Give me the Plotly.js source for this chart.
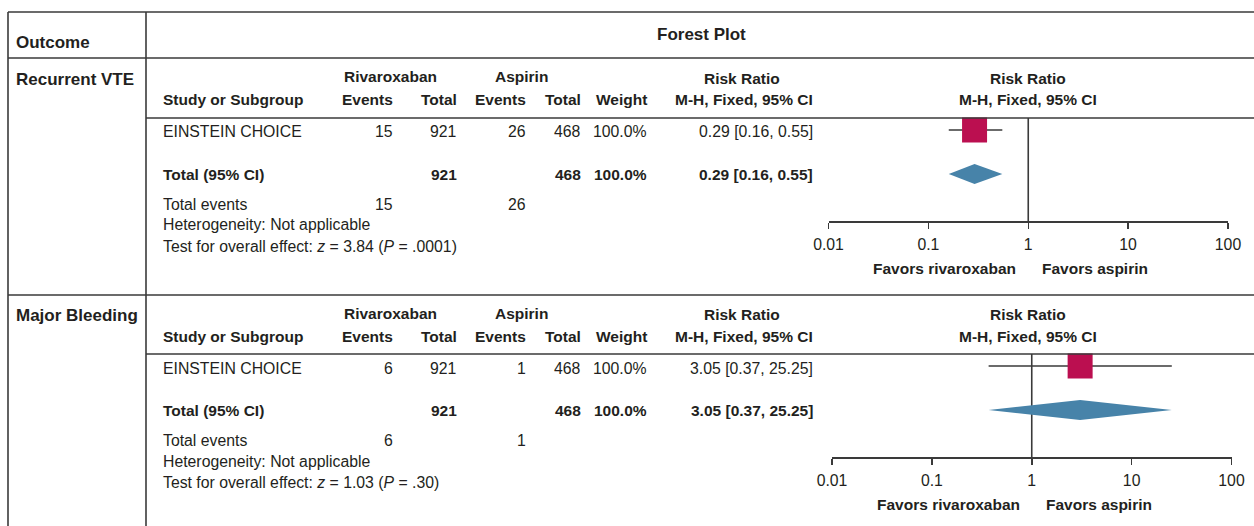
<!DOCTYPE html>
<html>
<head>
<meta charset="utf-8">
<script src="https://cdn.plot.ly/plotly-3.0.1.min.js"></script>
<style>
html,body{margin:0;padding:0;background:#fff;}
#chart{width:1254px;height:526px;}
</style>
</head>
<body>
<div id="chart"></div>
<script>
// ---------- data ----------
const outcomes = ["Recurrent VTE", "Major Bleeding"];
const studyNames = ["EINSTEIN CHOICE", "EINSTEIN CHOICE"];
const rivaroxabanEvents = [15, 6];
const rivaroxabanTotal = [921, 921];
const aspirinEvents = [26, 1];
const aspirinTotal = [468, 468];
const weights = ["100.0%", "100.0%"];
const riskRatio = [0.29, 3.05];
const ciLower = [0.16, 0.37];
const ciUpper = [0.55, 25.25];
const zStat = ["3.84", "1.03"];
const pValue = [".0001", ".30"];
const heterogeneity = ["Not applicable", "Not applicable"];
const tickValues = [0.01, 0.1, 1, 10, 100];
const tickLabels = ["0.01", "0.1", "1", "10", "100"];
const favorsLeft = "Favors rivaroxaban";
const favorsRight = "Favors aspirin";
const groupNames = ["Rivaroxaban", "Aspirin"];

// ---------- styling / geometry ----------
const W = 1254, H = 526;
const FONT = "Liberation Sans, Arial, Helvetica, sans-serif";
const TXT = "#231f20";
const LINE = "#3a3a3a";
const SQUARE = "#bb0f50";
const DIAMOND = "#4783a9";
const FS = 15.5, FS_REG = 15.8, FS_BIG = 17;
const px = x => x / W;
const py = y => 1 - y / H;

const headerLineY = [118, 354];          // pixel y of each panel's header underline
const forestX = [[828.5, 1228], [832, 1231.5]]; // pixel x domain of each forest axis
const rowStudy = 1, rowTotal = 2;
const rowUnit = 44;                      // px per row unit
const diamondHalf = 10 / rowUnit;

const cols = {study: 161, rivEv: 395, rivTot: 458.5, aspEv: 527.5, aspTot: 582.5, weight: 648.5, rr: 815};

const annotations = [];
function ann(text, x, y, xanchor, size, extra) {
  annotations.push(Object.assign({
    text: text, x: px(x), y: py(y), xref: "paper", yref: "paper",
    xanchor: xanchor, yanchor: "middle", showarrow: false,
    font: {family: FONT, size: size || FS, color: TXT}
  }, extra || {}));
}

const shapes = [];
function hline(y, x0, x1) {
  shapes.push({type: "line", xref: "paper", yref: "paper", x0: px(x0), x1: px(x1), y0: py(y), y1: py(y),
    line: {color: LINE, width: 1.6}});
}
function vline(x, y0, y1) {
  shapes.push({type: "line", xref: "paper", yref: "paper", x0: px(x), x1: px(x), y0: py(y0), y1: py(y1),
    line: {color: LINE, width: 1.6}});
}

// outer table frame
hline(12, 8, 1254);
hline(58, 8, 1254);
hline(295, 8, 1254);
vline(8, 12, 526);
vline(146, 12, 526);
ann("<b>Outcome</b>", 14, 42, "left", FS_BIG);
ann("<b>Forest Plot</b>", 701, 35, "center", FS_BIG);

const traces = [];
const layout = {
  width: W, height: H,
  margin: {l: 0, r: 0, t: 0, b: 0},
  paper_bgcolor: "#ffffff", plot_bgcolor: "rgba(0,0,0,0)",
  showlegend: false,
  shapes: shapes, annotations: annotations,
  font: {family: FONT, color: TXT}
};

outcomes.forEach((name, i) => {
  const Hy = headerLineY[i];
  const xa = i === 0 ? "x" : "x2";
  const ya = i === 0 ? "y" : "y2";
  const xKey = i === 0 ? "xaxis" : "xaxis2";
  const yKey = i === 0 ? "yaxis" : "yaxis2";

  hline(Hy, 146, 1254);

  // outcome label
  ann("<b>" + name + "</b>", 14, Hy - 39, "left", FS_BIG);

  // header rows
  ann("<b>" + groupNames[0] + "</b>", 390, Hy - 41, "center");
  ann("<b>" + groupNames[1] + "</b>", 521, Hy - 41, "center");
  ann("<b>Risk Ratio</b>", 742, Hy - 40, "center");
  ann("<b>Risk Ratio</b>", 1028, Hy - 40, "center");
  ann("<b>Study or Subgroup</b>", cols.study, Hy - 18, "left");
  ann("<b>Events</b>", cols.rivEv, Hy - 18, "right");
  ann("<b>Total</b>", cols.rivTot, Hy - 18, "right");
  ann("<b>Events</b>", cols.aspEv, Hy - 18, "right");
  ann("<b>Total</b>", cols.aspTot, Hy - 18, "right");
  ann("<b>Weight</b>", cols.weight, Hy - 18, "right");
  ann("<b>M-H, Fixed, 95% CI</b>", cols.rr, Hy - 18, "right");
  ann("<b>M-H, Fixed, 95% CI</b>", 1028, Hy - 18, "center");

  const rrText = riskRatio[i].toFixed(2) + " [" + ciLower[i].toFixed(2) + ", " + ciUpper[i].toFixed(2) + "]";

  // study row
  const yS = Hy + 14;
  ann(studyNames[i], cols.study, yS, "left", FS_REG);
  ann(String(rivaroxabanEvents[i]), cols.rivEv, yS, "right", FS_REG);
  ann(String(rivaroxabanTotal[i]), cols.rivTot, yS, "right", FS_REG);
  ann(String(aspirinEvents[i]), cols.aspEv, yS, "right", FS_REG);
  ann(String(aspirinTotal[i]), cols.aspTot, yS, "right", FS_REG);
  ann(weights[i], cols.weight, yS, "right", FS_REG);
  ann(rrText, cols.rr, yS, "right", FS_REG);

  // total row
  const yT = Hy + 56;
  ann("<b>Total (95% CI)</b>", cols.study, yT, "left");
  ann("<b>" + rivaroxabanTotal[i] + "</b>", cols.rivTot, yT, "right");
  ann("<b>" + aspirinTotal[i] + "</b>", cols.aspTot, yT, "right");
  ann("<b>" + weights[i] + "</b>", cols.weight, yT, "right");
  ann("<b>" + rrText + "</b>", cols.rr, yT, "right");

  // footer rows
  ann("Total events", cols.study, Hy + 86.5, "left", FS_REG);
  ann(String(rivaroxabanEvents[i]), cols.rivEv, Hy + 86.5, "right", FS_REG);
  ann(String(aspirinEvents[i]), cols.aspEv, Hy + 86.5, "right", FS_REG);
  ann("Heterogeneity: " + heterogeneity[i], cols.study, Hy + 107, "left", FS_REG);
  ann("Test for overall effect: <i>z</i> = " + zStat[i] + " (<i>P</i> = " + pValue[i] + ")", cols.study, Hy + 128, "left", FS_REG);

  // forest axes
  const axisY = Hy + 103;
  layout[xKey] = {
    type: "log", domain: [px(forestX[i][0]), px(forestX[i][1])], range: [-2, 2],
    anchor: ya, tickmode: "array", tickvals: tickValues, ticktext: tickLabels,
    ticks: "outside", ticklen: 6, tickwidth: 1.5, tickcolor: LINE,
    showline: true, linecolor: LINE, linewidth: 1.6, mirror: false,
    showgrid: false, zeroline: false, fixedrange: true,
    ticklabelstandoff: 2,
    tickfont: {family: FONT, size: FS_REG, color: TXT}
  };
  layout[yKey] = {
    domain: [py(axisY), py(Hy)],
    range: [rowTotal + 47 / rowUnit, rowStudy - 12 / rowUnit],
    visible: false, showgrid: false, zeroline: false, fixedrange: true
  };

  // line of no effect
  shapes.push({type: "line", xref: xa, yref: ya + " domain", x0: 1, x1: 1, y0: 0, y1: 1,
    layer: "below", line: {color: LINE, width: 1.6}});

  // favors labels
  annotations.push({text: "<b>" + favorsLeft + "</b>", xref: xa, yref: "paper", x: 0, y: py(Hy + 150),
    xanchor: "right", yanchor: "middle", xshift: -10, showarrow: false,
    font: {family: FONT, size: FS, color: TXT}});
  annotations.push({text: "<b>" + favorsRight + "</b>", xref: xa, yref: "paper", x: 0, y: py(Hy + 150),
    xanchor: "left", yanchor: "middle", xshift: 12, showarrow: false,
    font: {family: FONT, size: FS, color: TXT}});

  // CI line
  traces.push({type: "scatter", mode: "lines", x: [ciLower[i], ciUpper[i]], y: [rowStudy, rowStudy],
    xaxis: xa, yaxis: ya, line: {color: LINE, width: 1.6}, hoverinfo: "skip"});
  // point estimate square
  traces.push({type: "scatter", mode: "markers", x: [riskRatio[i]], y: [rowStudy],
    xaxis: xa, yaxis: ya, marker: {symbol: "square", size: 25, color: SQUARE, line: {width: 0}},
    cliponaxis: false, hoverinfo: "skip"});
  // pooled diamond
  traces.push({type: "scatter", mode: "lines", fill: "toself", fillcolor: DIAMOND,
    x: [ciLower[i], riskRatio[i], ciUpper[i], riskRatio[i], ciLower[i]],
    y: [rowTotal, rowTotal - diamondHalf, rowTotal, rowTotal + diamondHalf, rowTotal],
    xaxis: xa, yaxis: ya, line: {width: 0, color: DIAMOND}, hoverinfo: "skip"});
});

Plotly.newPlot("chart", traces, layout, {staticPlot: true, displayModeBar: false});
</script>
</body>
</html>
